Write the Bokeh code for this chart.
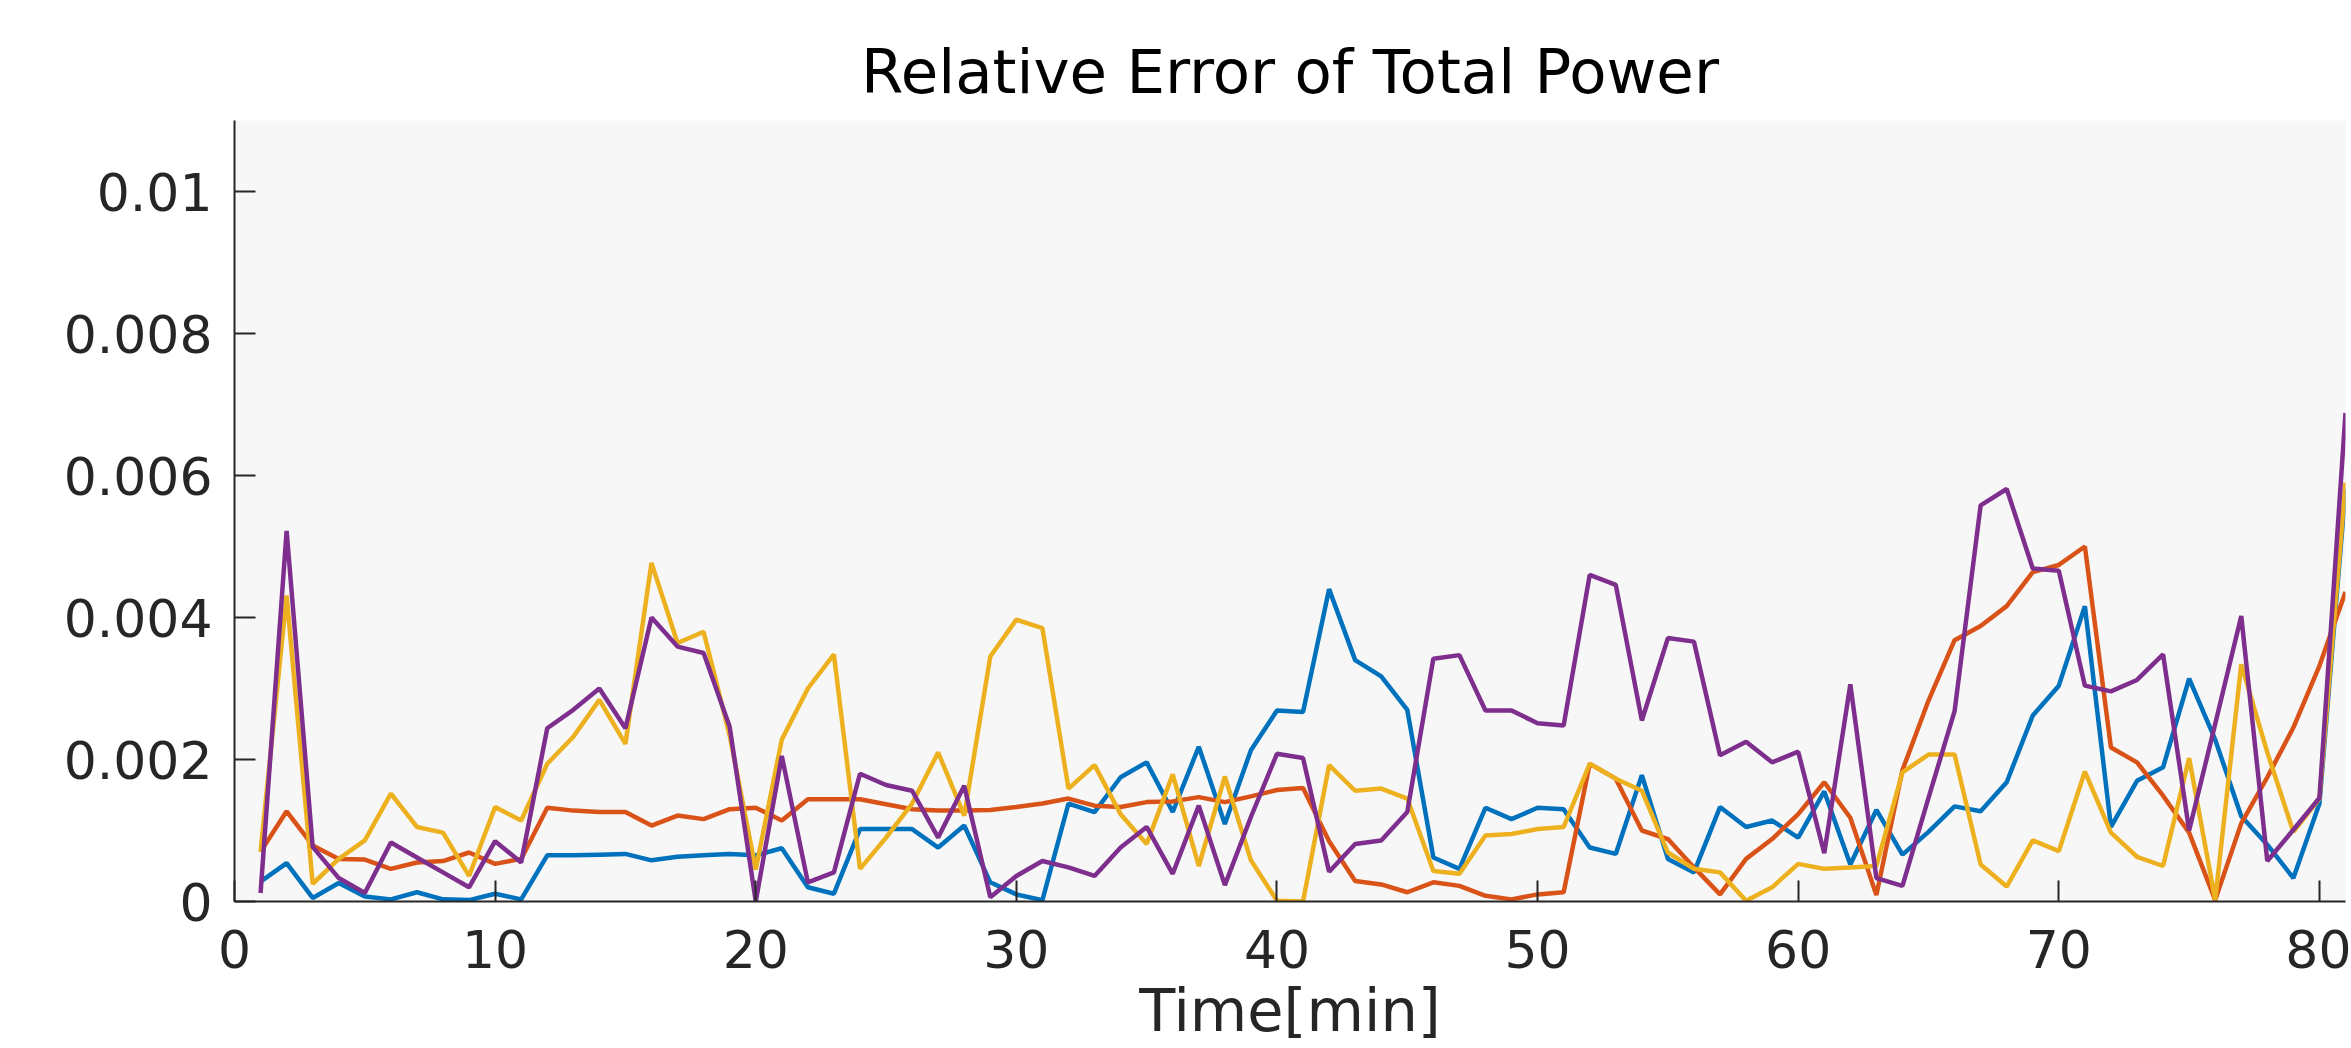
from bokeh.plotting import figure
from bokeh.models import FixedTicker, Range1d, ColumnDataSource
from bokeh.embed import file_html
from bokeh.resources import INLINE

# ---------------- data ----------------
minutes = list(range(1, 82))

err_blue = [
    0.00028, 0.00054, 0.00005, 0.00026, 0.00007, 0.00003, 0.00013, 0.00003, 0.00002, 0.00011,
    0.00003, 0.00065, 0.00065, 0.00066, 0.00067, 0.00058, 0.00063, 0.00065, 0.00067, 0.00065,
    0.00075, 0.00020, 0.00011, 0.00102, 0.00102, 0.00102, 0.00076, 0.00107, 0.00027, 0.00010,
    0.00002, 0.00138, 0.00126, 0.00175, 0.00196, 0.00126, 0.00218, 0.00109, 0.00213, 0.00269,
    0.00267, 0.00440, 0.00340, 0.00317, 0.00270, 0.00062, 0.00046, 0.00132, 0.00116, 0.00132,
    0.00130, 0.00076, 0.00067, 0.00178, 0.00060, 0.00041, 0.00133, 0.00105, 0.00114, 0.00090,
    0.00155, 0.00052, 0.00129, 0.00066, 0.00098, 0.00134, 0.00127, 0.00168, 0.00262, 0.00304,
    0.00416, 0.00105, 0.00170, 0.00189, 0.00314, 0.00228, 0.00120, 0.00080, 0.00033, 0.00138,
    0.00580,
]

err_orange = [
    0.00070, 0.00127, 0.00079, 0.00060, 0.00059, 0.00046, 0.00055, 0.00057, 0.00069, 0.00053,
    0.00060, 0.00132, 0.00128, 0.00126, 0.00126, 0.00107, 0.00121, 0.00116, 0.00130, 0.00132,
    0.00114, 0.00144, 0.00144, 0.00144, 0.00137, 0.00130, 0.00128, 0.00128, 0.00129, 0.00133,
    0.00138, 0.00145, 0.00135, 0.00133, 0.00140, 0.00141, 0.00147, 0.00140, 0.00148, 0.00157,
    0.00160, 0.00085, 0.00029, 0.00024, 0.00013, 0.00027, 0.00022, 0.00008, 0.00003, 0.00010,
    0.00013, 0.00194, 0.00173, 0.00100, 0.00088, 0.00048, 0.00010, 0.00060, 0.00088, 0.00123,
    0.00168, 0.00118, 0.00009, 0.00185, 0.00283, 0.00368, 0.00388, 0.00416, 0.00464, 0.00474,
    0.00500, 0.00217, 0.00196, 0.00149, 0.00097, 0.00002, 0.00110, 0.00175, 0.00245, 0.00332,
    0.00436,
]

err_yellow = [
    0.00070, 0.00431, 0.00025, 0.00060, 0.00086, 0.00152, 0.00105, 0.00097, 0.00036, 0.00133,
    0.00114, 0.00194, 0.00232, 0.00284, 0.00222, 0.00477, 0.00364, 0.00380, 0.00234, 0.00045,
    0.00228, 0.00300, 0.00348, 0.00046, 0.00090, 0.00138, 0.00210, 0.00121, 0.00345, 0.00397,
    0.00385, 0.00159, 0.00192, 0.00123, 0.00081, 0.00179, 0.00050, 0.00176, 0.00058, 0.00001,
    0.00000, 0.00192, 0.00156, 0.00159, 0.00145, 0.00043, 0.00039, 0.00093, 0.00095, 0.00102,
    0.00105, 0.00194, 0.00173, 0.00156, 0.00069, 0.00046, 0.00041, 0.00001, 0.00020, 0.00053,
    0.00046, 0.00048, 0.00050, 0.00182, 0.00207, 0.00207, 0.00052, 0.00021, 0.00086, 0.00071,
    0.00183, 0.00097, 0.00063, 0.00050, 0.00202, 0.00002, 0.00334, 0.00210, 0.00098, 0.00145,
    0.00590,
]

err_purple = [
    0.00012, 0.00522, 0.00077, 0.00033, 0.00012, 0.00083, 0.00062, 0.00041, 0.00020, 0.00085,
    0.00055, 0.00244, 0.00270, 0.00300, 0.00244, 0.00400, 0.00359, 0.00350, 0.00246, 0.00000,
    0.00205, 0.00027, 0.00041, 0.00180, 0.00164, 0.00156, 0.00090, 0.00163, 0.00006, 0.00036,
    0.00057, 0.00048, 0.00036, 0.00076, 0.00105, 0.00039, 0.00135, 0.00023, 0.00119, 0.00208,
    0.00202, 0.00042, 0.00081, 0.00086, 0.00126, 0.00342, 0.00347, 0.00269, 0.00269, 0.00251,
    0.00248, 0.00460, 0.00446, 0.00255, 0.00371, 0.00366, 0.00206, 0.00225, 0.00196, 0.00211,
    0.00068, 0.00306, 0.00033, 0.00022, 0.00146, 0.00268, 0.00558, 0.00581, 0.00469, 0.00466,
    0.00304, 0.00296, 0.00312, 0.00348, 0.00100, 0.00250, 0.00402, 0.00057, 0.00101, 0.00146,
    0.00688,
]

x_ticks = [0, 10, 20, 30, 40, 50, 60, 70, 80]
y_ticks = [0.0, 0.002, 0.004, 0.006, 0.008, 0.01]
y_tick_labels = ["0", "0.002", "0.004", "0.006", "0.008", "0.01"]

title_text = "Relative Error of Total Power"
x_label = "Time[min]"

# ---------------- styles ----------------
series = [err_blue, err_orange, err_yellow, err_purple]
colors = ["#0072BD", "#D95319", "#EDB120", "#7E2F8E"]
FONT = "DejaVu Sans"
AX = "#262626"

p = figure(
    width=2351, height=1048,
    output_backend="svg", toolbar_location=None,
    x_range=Range1d(0, 81), y_range=Range1d(0, 0.011),
    min_border_left=234, min_border_right=6,
    min_border_top=120, min_border_bottom=147,
    background_fill_color="#F7F7F7", border_fill_color="white",
)
p.outline_line_color = None
p.grid.visible = False

for vals, c in zip(series, colors):
    src = ColumnDataSource(dict(x=minutes, y=vals))
    p.line("x", "y", source=src, line_color=c, line_width=4.5)

p.xaxis.ticker = FixedTicker(ticks=x_ticks)
p.yaxis.ticker = FixedTicker(ticks=y_ticks)
p.yaxis.major_label_overrides = {t: s for t, s in zip(y_ticks, y_tick_labels)}
p.xaxis.axis_label = x_label

for ax in (p.xaxis[0], p.yaxis[0]):
    ax.axis_line_color = AX
    ax.axis_line_width = 2
    ax.major_tick_line_color = AX
    ax.major_tick_line_width = 2
    ax.major_tick_in = 21
    ax.major_tick_out = 0
    ax.minor_tick_in = 0
    ax.minor_tick_out = 0
    ax.major_label_text_font = FONT
    ax.major_label_text_font_size = "52px"
    ax.major_label_text_color = AX
    ax.axis_label_text_font = FONT
    ax.axis_label_text_font_size = "59px"
    ax.axis_label_text_font_style = "normal"
    ax.axis_label_text_color = AX

p.xaxis.major_label_standoff = 28
p.xaxis.axis_label_standoff = 5
p.yaxis.major_label_standoff = 22

p.title.text = title_text
p.title.align = "center"
p.title.text_font = FONT
p.title.text_font_size = "61px"
p.title.text_font_style = "normal"
p.title.text_color = "black"
p.title.standoff = 28

open("out.html", "w").write(file_html(p, INLINE))
